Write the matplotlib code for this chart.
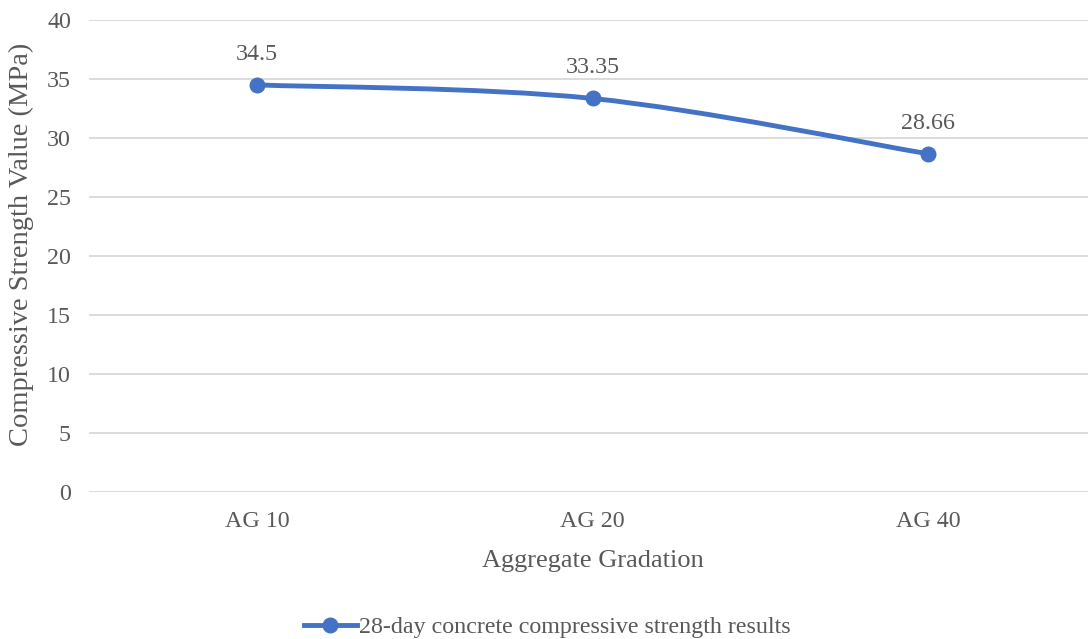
import matplotlib.pyplot as plt
from matplotlib.path import Path
from matplotlib.patches import PathPatch
from matplotlib.lines import Line2D

plt.rcParams['font.family'] = ['Liberation Serif', 'DejaVu Serif']

# Chart data
gradations = ['AG 10', 'AG 20', 'AG 40']
strength = [34.5, 33.35, 28.66]
series_name = '28-day concrete compressive strength results'

blue = '#4472C4'
text_grey = '#595959'
grid_grey = '#D9D9D9'

fig = plt.figure(figsize=(10.88, 6.39), dpi=100)
ax = fig.add_axes([89 / 1088, 147 / 639, 1007 / 1088, 472 / 639])

xs = list(range(len(gradations)))

# smoothed line: cubic Bezier segments through the points (Catmull-Rom style)
pts = list(zip(xs, strength))
verts = [pts[0]]
codes = [Path.MOVETO]
for i in range(len(pts) - 1):
    p0 = pts[i - 1] if i > 0 else pts[i]
    p1 = pts[i]
    p2 = pts[i + 1]
    p3 = pts[i + 2] if i + 2 < len(pts) else pts[i + 1]
    c1 = (p1[0] + (p2[0] - p0[0]) / 6, p1[1] + (p2[1] - p0[1]) / 6)
    c2 = (p2[0] - (p3[0] - p1[0]) / 6, p2[1] - (p3[1] - p1[1]) / 6)
    verts += [c1, c2, p2]
    codes += [Path.CURVE4] * 3
ax.add_patch(PathPatch(Path(verts, codes), facecolor='none', edgecolor=blue,
                       lw=3.5, capstyle='round', joinstyle='round', zorder=3))
ax.plot(xs, strength, linestyle='none', marker='o', markersize=10.5,
        color=blue, zorder=4)

for x, v in zip(xs, strength):
    ax.annotate(f'{v:g}', (x, v), xytext=(0, 22), textcoords='offset points',
                ha='center', va='center', fontsize=17.3, color=text_grey)

ax.set_xlim(-0.5, len(gradations) - 0.5)
ax.set_ylim(0, 40)
ax.set_yticks(range(0, 41, 5))
ax.set_xticks(xs)
ax.set_xticklabels(gradations)
ax.tick_params(axis='both', length=0, labelsize=17.3, colors=text_grey)
ax.tick_params(axis='y', pad=13)
ax.tick_params(axis='x', pad=14)
ax.grid(axis='y', color=grid_grey, linewidth=1.3)
ax.set_axisbelow(True)
for s in ax.spines.values():
    s.set_visible(False)

ax.set_xlabel('Aggregate Gradation', fontsize=19, color=text_grey, labelpad=13)
ax.set_ylabel('Compressive Strength Value (MPa)', fontsize=20.5, color=text_grey)
ax.yaxis.set_label_coords(-0.055, 0.525)

handle = Line2D([], [], color=blue, lw=3.5, marker='o', markersize=10.5)
fig.legend([handle], [series_name], loc='center', bbox_to_anchor=(0.503, 1 - 627 / 639),
           frameon=False, fontsize=17.3, labelcolor=text_grey,
           handlelength=2.2, handletextpad=0.1)

fig.savefig('out.png', dpi=100)
